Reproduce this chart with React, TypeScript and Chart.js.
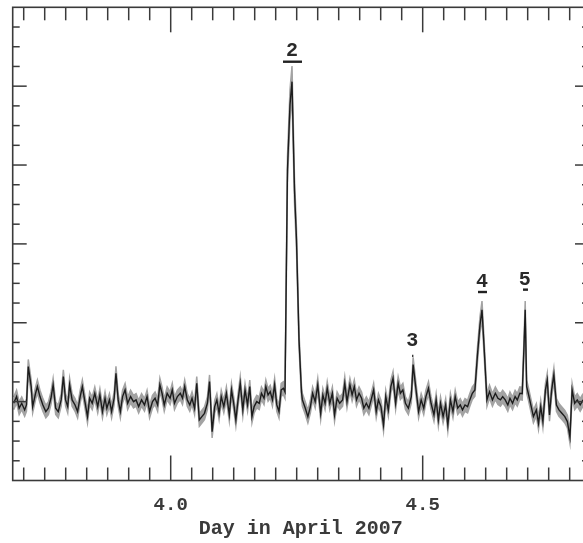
import React, { useEffect, useRef } from 'react';
import { Chart, registerables } from 'chart.js';

Chart.register(...registerables);

// Observation time (day in April 2007)
const times = [
  3.6884, 3.6942, 3.6993, 3.7044, 3.7102, 3.7138, 3.7174, 3.7232, 3.7261, 3.7319,
  3.7355, 3.7406, 3.7464, 3.7522, 3.7573, 3.7624, 3.7667, 3.7718, 3.7769, 3.7827,
  3.7870, 3.7914, 3.7957, 3.7994, 3.8044, 3.8102, 3.8153, 3.8204, 3.8247, 3.8298,
  3.8349, 3.8392, 3.8443, 3.8494, 3.8552, 3.8595, 3.8646, 3.8697, 3.8733, 3.8784,
  3.8827, 3.8878, 3.8914, 3.8958, 3.9001, 3.9045, 3.9095, 3.9146, 3.9204, 3.9262,
  3.9313, 3.9364, 3.9422, 3.9480, 3.9531, 3.9581, 3.9639, 3.9690, 3.9741, 3.9785,
  3.9828, 3.9872, 3.9930, 3.9988, 4.0031, 4.0075, 4.0133, 4.0191, 4.0234, 4.0278,
  4.0329, 4.0379, 4.0423, 4.0474, 4.0517, 4.0568, 4.0619, 4.0670, 4.0728, 4.0771,
  4.0822, 4.0873, 4.0916, 4.0960, 4.1003, 4.1054, 4.1105, 4.1163, 4.1206, 4.1250,
  4.1293, 4.1337, 4.1380, 4.1431, 4.1475, 4.1525, 4.1569, 4.1612, 4.1656, 4.1707,
  4.1757, 4.1801, 4.1852, 4.1888, 4.1932, 4.1975, 4.2019, 4.2062, 4.2105, 4.2149,
  4.2192, 4.2236,
  4.2268, 4.2317, 4.2367, 4.2407, 4.2456, 4.2496, 4.2546, 4.2595,
  4.2613, 4.2671, 4.2722, 4.2772, 4.2816, 4.2867, 4.2918, 4.2976, 4.3019, 4.3063,
  4.3106, 4.3157, 4.3208, 4.3251, 4.3302, 4.3353, 4.3411, 4.3454, 4.3498, 4.3556,
  4.3600, 4.3643, 4.3687, 4.3737, 4.3788, 4.3832, 4.3882, 4.3933, 4.3977, 4.4027,
  4.4078, 4.4122, 4.4172, 4.4223, 4.4267, 4.4318, 4.4368, 4.4412, 4.4463, 4.4513,
  4.4557, 4.4607, 4.4658, 4.4716, 4.4774, 4.4810, 4.4876, 4.4919, 4.4970, 4.5021,
  4.5064, 4.5115, 4.5166, 4.5224, 4.5267, 4.5311, 4.5354, 4.5405, 4.5456, 4.5499,
  4.5550, 4.5601, 4.5645, 4.5695, 4.5746, 4.5790, 4.5840, 4.5891, 4.5935, 4.5985,
  4.6036, 4.6087, 4.6137, 4.6177, 4.6216, 4.6275, 4.6326, 4.6384, 4.6442, 4.6493,
  4.6543, 4.6587, 4.6638, 4.6689, 4.6732, 4.6783, 4.6834, 4.6877, 4.6928, 4.6975,
  4.7010, 4.7034, 4.7063, 4.7095, 4.7146, 4.7197, 4.7255, 4.7298, 4.7342, 4.7385,
  4.7436, 4.7472, 4.7516, 4.7559, 4.7603, 4.7654, 4.7704, 4.7762, 4.7820, 4.7871,
  4.7922, 4.7965, 4.8016, 4.8067, 4.8125, 4.8183,
];

// Relative flux
const flux = [
  0.979, 1.064, 0.916, 0.979, 0.895, 0.958, 1.445, 1.191, 0.937, 1.106,
  1.191, 1.064, 0.958, 0.874, 0.916, 1.043, 1.212, 0.916, 0.874, 1.022,
  1.318, 1.022, 0.937, 1.212, 1.022, 0.958, 0.874, 1.064, 1.191, 1.000,
  0.810, 1.043, 0.979, 1.106, 0.937, 1.085, 0.874, 1.043, 0.916, 1.022,
  0.874, 1.043, 1.360, 1.022, 0.874, 1.064, 1.149, 0.979, 1.064, 1.000,
  1.022, 0.937, 1.022, 0.958, 1.064, 0.874, 1.000, 1.043, 0.958, 1.212,
  1.106, 0.958, 1.106, 1.043, 1.149, 0.979, 1.064, 1.106, 1.043, 1.191,
  1.022, 0.958, 1.043, 0.916, 1.233, 0.768, 0.810, 0.852, 0.979, 1.254,
  0.620, 0.937, 1.022, 0.852, 1.064, 0.937, 1.106, 0.831, 1.149, 0.979,
  0.768, 1.022, 1.233, 0.895, 1.149, 0.958, 1.191, 0.810, 0.937, 1.000,
  0.979, 1.106, 1.043, 1.191, 1.085, 1.127, 1.022, 1.212, 0.958, 0.874,
  1.149, 1.170,
  1.123, 3.940, 4.765, 5.057, 3.687, 3.052, 1.783, 1.123,
  1.022, 0.916, 0.810, 0.937, 1.106, 1.000, 1.212, 0.852, 1.085, 0.979,
  1.170, 0.979, 1.106, 0.831, 1.043, 0.979, 1.022, 1.233, 1.000, 1.212,
  1.085, 1.191, 1.022, 1.106, 1.043, 0.916, 0.979, 0.916, 1.022, 1.149,
  0.874, 1.022, 0.937, 0.704, 1.064, 0.895, 1.191, 1.297, 0.979, 1.233,
  1.106, 1.149, 0.979, 0.916, 1.064, 1.470, 1.106, 0.874, 1.022, 0.916,
  1.064, 1.170, 0.979, 0.831, 1.022, 0.768, 0.979, 0.810, 0.958, 0.704,
  1.022, 0.874, 1.064, 0.916, 0.958, 0.895, 0.958, 0.937, 1.022, 1.106,
  1.149, 1.593, 1.973, 2.164, 1.720, 1.022, 1.127, 1.022, 1.106, 1.043,
  1.022, 1.064, 1.022, 0.958, 1.043, 0.979, 1.064, 1.022, 1.106, 1.100,
  1.700, 2.164, 1.190, 1.106, 0.958, 0.810, 0.895, 0.725, 0.937, 0.747,
  1.149, 1.275, 0.831, 1.149, 1.339, 0.958, 0.895, 0.852, 0.810, 0.747,
  0.550, 1.149, 0.979, 1.022, 0.958, 1.022,
];

const xTickValues = [4.0, 4.5];
const xTickLabels = ['4.0', '4.5'];
const xTitle = 'Day in April 2007';

// Flare annotations
const flareLabels = ['2', '3', '4', '5'];
const flareLabelX = [4.2407, 4.4795, 4.6177, 4.7025];
const flareLabelY = [5.45, 1.77, 2.52, 2.545];
const flareBarStart = [4.2228, 4.4790, 4.6097, 4.6990];
const flareBarEnd = [4.2605, 4.4815, 4.6276, 4.7089];
const flareBarY = [5.31, 1.58, 2.39, 2.42];

const X_MIN = 3.6865;
const X_MAX = 4.83;
const Y_MIN = 0;
const Y_MAX = 6;

const FONT = '"Liberation Mono", "DejaVu Sans Mono", monospace';

const framePlugin = {
  id: 'framePlugin',
  afterDatasetsDraw(chart: any) {
    const { ctx, chartArea, scales } = chart;
    const { left, right, top, bottom } = chartArea;
    const x = scales.x;
    const y = scales.y;
    ctx.save();
    // flare labels
    ctx.fillStyle = '#2a2a2a';
    ctx.strokeStyle = '#222';
    ctx.font = `bold 20px ${FONT}`;
    ctx.textAlign = 'center';
    ctx.textBaseline = 'middle';
    flareLabels.forEach((lab, i) => {
      ctx.fillText(lab, x.getPixelForValue(flareLabelX[i]), y.getPixelForValue(flareLabelY[i]));
      const yb = y.getPixelForValue(flareBarY[i]);
      ctx.lineWidth = 2.4;
      ctx.beginPath();
      ctx.moveTo(x.getPixelForValue(flareBarStart[i]), yb);
      ctx.lineTo(x.getPixelForValue(flareBarEnd[i]), yb);
      ctx.stroke();
    });

    // frame
    ctx.strokeStyle = '#3a3a3a';
    ctx.lineWidth = 1.6;
    ctx.strokeRect(left, top, right - left, bottom - top);

    const seg = (x1: number, y1: number, x2: number, y2: number) => {
      ctx.beginPath();
      ctx.moveTo(x1, y1);
      ctx.lineTo(x2, y2);
      ctx.stroke();
    };
    // x ticks: minor every hour, major every 12 hours
    ctx.lineWidth = 1.5;
    for (let k = Math.ceil(X_MIN * 24); k <= Math.floor(X_MAX * 24); k++) {
      const px = x.getPixelForValue(k / 24);
      const len = k % 12 === 0 ? 25 : 13;
      seg(px, top, px, top + len);
      seg(px, bottom, px, bottom - len);
    }
    // y ticks: minor 0.25, major 1
    for (let k = 1; k < (Y_MAX - Y_MIN) * 4; k++) {
      const py = y.getPixelForValue(Y_MIN + k * 0.25);
      const len = k % 4 === 0 ? 14 : 7;
      seg(left, py, left + len, py);
      seg(right, py, right - len, py);
    }

    // tick labels & title
    ctx.fillStyle = '#3a3a3a';
    ctx.font = `bold 19px ${FONT}`;
    ctx.textAlign = 'center';
    ctx.textBaseline = 'middle';
    xTickValues.forEach((v, i) => {
      ctx.fillText(xTickLabels[i], x.getPixelForValue(v), bottom + 25);
    });
    ctx.font = `bold 20px ${FONT}`;
    ctx.fillText(xTitle, (left + right) / 2, bottom + 48);
    ctx.restore();
  },
};

export default function App() {
  const ref = useRef<HTMLCanvasElement>(null);

  useEffect(() => {
    const canvas = ref.current;
    if (!canvas) return;
    const err = (v: number) => 0.08 + 0.03 * Math.max(0, v - 1.1);
    const linePts = times.map((t, i) => ({ x: t, y: flux[i] }));
    const lowerPts = times.map((t, i) => ({ x: t, y: flux[i] - err(flux[i]) }));
    const upperPts = times.map((t, i) => ({ x: t, y: flux[i] + err(flux[i]) }));

    const chart = new Chart(canvas, {
      type: 'line',
      data: {
        datasets: [
          {
            data: lowerPts,
            borderColor: '#a3a3a3',
            borderWidth: 1.5,
            pointRadius: 0,
            fill: false,
            tension: 0,
            order: 2,
          },
          {
            data: upperPts,
            borderColor: '#a3a3a3',
            borderWidth: 1.5,
            backgroundColor: '#a3a3a3',
            pointRadius: 0,
            fill: '-1',
            tension: 0,
            order: 1,
          },
          {
            data: linePts,
            borderColor: '#1c1c1c',
            borderWidth: 1.4,
            pointRadius: 0,
            fill: false,
            tension: 0,
            order: 0,
          },
        ],
      },
      options: {
        responsive: false,
        animation: false,
        events: [],
        layout: { padding: { left: 12.7, top: 7.3, right: 11, bottom: 62.5 } },
        plugins: {
          legend: { display: false },
          tooltip: { enabled: false },
        },
        scales: {
          x: { type: 'linear', min: X_MIN, max: X_MAX, display: false },
          y: { type: 'linear', min: Y_MIN, max: Y_MAX, display: false },
        },
      },
      plugins: [framePlugin],
    });
    return () => chart.destroy();
  }, []);

  return (
    <div
      style={{
        position: 'absolute',
        left: 0,
        top: 0,
        width: 583,
        height: 543,
        overflow: 'hidden',
        background: '#fff',
      }}
    >
      <canvas ref={ref} width={600} height={543} style={{ display: 'block' }} />
    </div>
  );
}
